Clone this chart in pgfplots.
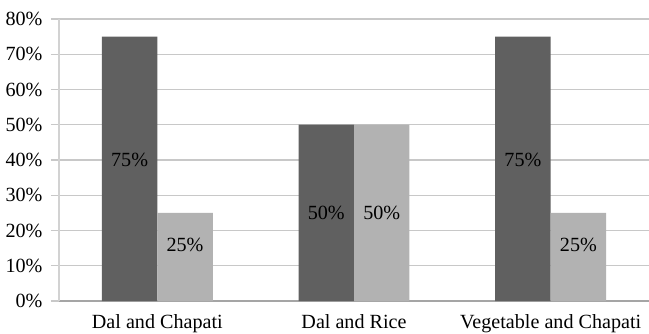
\documentclass[border=0pt]{standalone}
\usepackage{pgfplots}
\pgfplotsset{compat=1.18}
\usepackage{fontspec}
\setmainfont{Liberation Serif}

\definecolor{barDark}{RGB}{96,96,96}
\definecolor{barLight}{RGB}{178,178,178}
\definecolor{gridGray}{RGB}{200,200,200}
\definecolor{axisGray}{RGB}{165,165,165}
\definecolor{yaxisGray}{RGB}{210,210,210}

\begin{document}
\begin{tikzpicture}[font=\fontsize{20.2}{24}\selectfont]
\begin{axis}[
  scale only axis,
  width=590bp, height=282bp,
  xmin=-0.5, xmax=2.5,
  ymin=0, ymax=80,
  axis x line=bottom,
  axis y line=left,
  axis line style={-},
  x axis line style={draw=axisGray, line width=1.2bp},
  y axis line style={draw=yaxisGray, line width=1.2bp},
  ymajorgrids,
  major grid style={draw=gridGray, line width=1.2bp},
  tick align=outside,
  major tick length=8bp,
  ytick={0,10,...,80},
  yticklabels={0\%,10\%,20\%,30\%,40\%,50\%,60\%,70\%,80\%},
  ytick style={draw=gridGray, line width=1.2bp},
  yticklabel style={font=\fontsize{20.2}{24}\selectfont, xshift=-5bp},
  xtick={0,1,2},
  xticklabels={Dal and Chapati, Dal and Rice, Vegetable and Chapati},
  xtick style={draw=none},
  xticklabel style={font=\fontsize{20.2}{24}\selectfont, yshift=-2.5bp},
  extra x ticks={-0.5,0.5,1.5},
  extra x tick labels={},
  extra x tick style={major tick length=7bp, tick style={draw=gridGray, line width=1.2bp}},
  clip=false,
]
% first series (dark) and second series (light)
\addplot[ybar, bar width=0.282, bar shift=-0.141, fill=barDark, draw=none]
  coordinates {(0,75) (1,50) (2,75)};
\addplot[ybar, bar width=0.282, bar shift=0.141, fill=barLight, draw=none]
  coordinates {(0,25) (1,50) (2,25)};

% value labels
\node at (axis cs:-0.141,40) {75\%};
\node at (axis cs:0.141,16) {25\%};
\node at (axis cs:0.859,25) {50\%};
\node at (axis cs:1.141,25) {50\%};
\node at (axis cs:1.859,40) {75\%};
\node at (axis cs:2.141,16) {25\%};
\end{axis}
\pgfresetboundingbox
\path ([xshift=-59bp,yshift=-33bp]current axis.south west)
  rectangle ([yshift=19bp]current axis.north east);
\end{tikzpicture}
\end{document}
